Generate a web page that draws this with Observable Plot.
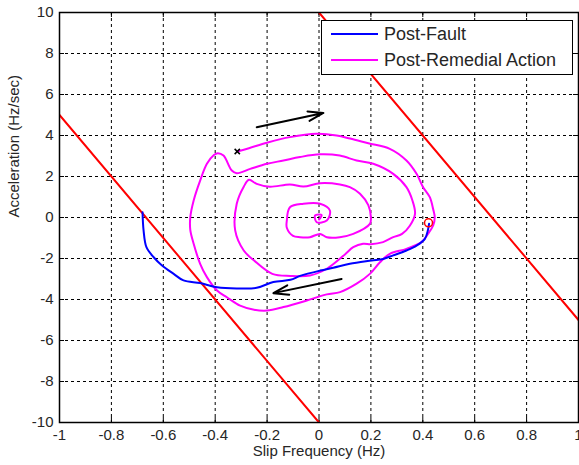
<!DOCTYPE html>
<html><head><meta charset="utf-8">
<script src="https://cdn.jsdelivr.net/npm/d3@7"></script>
<script src="https://cdn.jsdelivr.net/npm/@observablehq/plot@0.6"></script>
<style>
html,body{margin:0;padding:0;background:#fff;}
#wrap{position:relative;width:579px;height:465px;font-family:"Liberation Sans",Arial,sans-serif;}
#legend{position:absolute;left:321px;top:20px;width:252px;height:55px;border:1.5px solid #000;background:#fff;box-sizing:border-box;}
.item{position:absolute;left:0;height:20px;display:flex;align-items:center;font-size:18px;color:#262626;white-space:nowrap;}
.item svg{margin-left:9px;margin-right:6px;}
</style></head>
<body><div id="wrap"></div>
<script>
const xTicks = [-1,-0.8,-0.6,-0.4,-0.2,0,0.2,0.4,0.6,0.8,1];
const yTicks = [-10,-8,-6,-4,-2,0,2,4,6,8,10];
const xLabel = "Slip Frequency (Hz)";
const yLabel = "Acceleration (Hz/sec)";
const seriesNames = ["Post-Fault","Post-Remedial Action"];

const faultX = [0.424,0.42,0.408,0.376,0.337,0.286,0.247,0.203,0.119,0.055,0.004,-0.073,-0.11,-0.176,-0.24,-0.317,-0.393,-0.458,-0.522,-0.56,-0.605,-0.637,-0.665,-0.676,-0.68];
const faultY = [-0.31,-0.6,-1.04,-1.37,-1.61,-1.85,-2.02,-2.1,-2.26,-2.45,-2.59,-2.85,-3.04,-3.15,-3.43,-3.46,-3.4,-3.2,-3.07,-2.75,-2.34,-1.94,-1.45,-0.63,0.26];

const remedialX = [-0.315,-0.27,-0.2,-0.112,-0.009,0.068,0.12,0.19,0.273,0.337,0.376,0.401,0.427,0.44,0.446,0.44,0.42,0.395,0.337,0.273,0.235,0.196,0.145,0.081,0.03,-0.047,-0.137,-0.2,-0.25,-0.304,-0.355,-0.393,-0.432,-0.458,-0.483,-0.496,-0.496,-0.483,-0.458,-0.432,-0.405,-0.39,-0.368,-0.336,-0.317,-0.265,-0.2,-0.137,-0.073,0.004,0.08,0.145,0.209,0.286,0.337,0.36,0.37,0.35,0.32,0.286,0.247,0.2,0.17,0.132,0.1,0.03,-0.035,-0.11,-0.18,-0.25,-0.29,-0.323,-0.317,-0.29,-0.27,-0.24,-0.19,-0.112,-0.06,0.004,0.081,0.119,0.158,0.19,0.2,0.196,0.132,0.08,0.03,0.004,-0.035,-0.073,-0.1,-0.124,-0.124,-0.112,-0.06,0.004,0.042,0.03,-0.009,-0.015,0.01,0.0];
const remedialY = [3.22,3.38,3.65,3.92,4.08,4.0,3.85,3.62,3.35,2.78,2.13,1.48,0.99,0.4,0.0,-0.39,-0.8,-1.2,-1.53,-1.77,-2.18,-2.75,-3.23,-3.64,-3.75,-4.05,-4.37,-4.54,-4.5,-4.3,-3.89,-3.56,-2.91,-2.26,-1.28,-0.6,0.01,0.83,1.8,2.62,3.05,3.14,3.02,2.29,2.16,2.37,2.62,2.78,2.95,3.08,3.02,2.78,2.62,2.13,1.48,0.83,0.18,-0.4,-0.8,-0.96,-1.2,-1.3,-1.28,-1.45,-1.8,-2.5,-2.83,-2.85,-2.75,-2.1,-1.61,-0.63,0.67,1.5,1.84,1.64,1.5,1.61,1.51,1.67,1.61,1.48,1.16,0.6,0.0,-0.31,-0.8,-0.96,-0.96,-0.8,-0.96,-0.96,-0.9,-0.5,-0.15,0.5,0.67,0.67,0.34,-0.15,-0.23,0.1,0.12,-0.1];

const boundary1X = [-1, 0], boundary1Y = [5, -10];
const boundary2X = [0, 1], boundary2Y = [10, -5];

const arrowX1 = [-0.24, 0.087], arrowY1 = [4.4, -3.0];
const arrowX2 = [0.017, -0.176], arrowY2 = [5.1, -3.69];

const startMarkX = [-0.315], startMarkY = [3.22];
const faultMarkX = [0.422], faultMarkY = [-0.26];

const W = 579, H = 465, mT = 12, mB = 43, mL = 59, mR = 1;
const yTickLen = 5 * 20 / (H - mT - mB);
const xTickLen = 5 * 2 / (W - mL - mR);
const ink = "#262626";

const plot = Plot.plot({
  width: W, height: H,
  marginTop: mT, marginBottom: mB, marginLeft: mL, marginRight: mR,
  x: {domain: [-1, 1]},
  y: {domain: [-10, 10]},
  style: {fontFamily: "'Liberation Sans', Arial, sans-serif", background: "#fff"},
  marks: [
    Plot.ruleX(xTicks, {x: d => d, stroke: "#000", strokeWidth: 1, strokeDasharray: "3,3"}),
    Plot.ruleY(yTicks, {y: d => d, stroke: "#000", strokeWidth: 1, strokeDasharray: "3,3"}),
    Plot.ruleX(xTicks, {x: d => d, y1: -10, y2: -10 + yTickLen, stroke: "#000"}),
    Plot.ruleX(xTicks, {x: d => d, y1: 10, y2: 10 - yTickLen, stroke: "#000"}),
    Plot.ruleY(yTicks, {y: d => d, x1: -1, x2: -1 + xTickLen, stroke: "#000"}),
    Plot.ruleY(yTicks, {y: d => d, x1: 1, x2: 1 - xTickLen, stroke: "#000"}),
    Plot.axisX(xTicks, {tickSize: 0, tickPadding: 7, tickFormat: d => String(d), fontSize: 15, color: ink, label: null}),
    Plot.axisY(yTicks, {tickSize: 0, tickPadding: 6, tickFormat: d => String(d), fontSize: 15, color: ink, label: null}),
    Plot.line(boundary1X, {x: boundary1X, y: boundary1Y, stroke: "#ff0000", strokeWidth: 2, clip: true}),
    Plot.line(boundary2X, {x: boundary2X, y: boundary2Y, stroke: "#ff0000", strokeWidth: 2, clip: true}),
    Plot.line(remedialX, {x: remedialX, y: remedialY, stroke: "#ff00ff", strokeWidth: 2, strokeLinejoin: "round", curve: "catmull-rom"}),
    Plot.line(faultX, {x: faultX, y: faultY, stroke: "#0000ff", strokeWidth: 2, strokeLinejoin: "round", curve: "catmull-rom"}),
    Plot.dot(faultMarkX, {x: faultMarkX, y: faultMarkY, r: 4, stroke: "#ff0000", strokeWidth: 1.5, fill: "none"}),
    Plot.dot(startMarkX, {x: startMarkX, y: startMarkY, symbol: "times", r: 2.5, stroke: "#000", strokeWidth: 1.5}),
    Plot.arrow(arrowX1, {x1: arrowX1, y1: arrowY1, x2: arrowX2, y2: arrowY2, stroke: "#000", strokeWidth: 2, headLength: 12, headAngle: 35}),
    Plot.frame({stroke: "#000", strokeWidth: 1.5}),
    Plot.text([xLabel], {text: d => d, frameAnchor: "bottom", dy: 33, fontSize: 15, fill: ink}),
    Plot.text([yLabel], {text: d => d, frameAnchor: "left", dx: -45, rotate: -90, fontSize: 15, fill: ink})
  ]
});
const wrap = document.getElementById("wrap");
wrap.appendChild(plot);

const legend = document.createElement("div");
legend.id = "legend";
const colors = ["#0000ff", "#ff00ff"];
seriesNames.forEach((name, i) => {
  const it = document.createElement("div");
  it.className = "item";
  it.style.top = (i === 0 ? 3 : 29) + "px";
  it.innerHTML = `<svg width="47" height="4"><line x1="0" y1="2" x2="47" y2="2" stroke="${colors[i]}" stroke-width="2"/></svg><span>${name}</span>`;
  legend.appendChild(it);
});
wrap.appendChild(legend);
</script>
</body></html>
